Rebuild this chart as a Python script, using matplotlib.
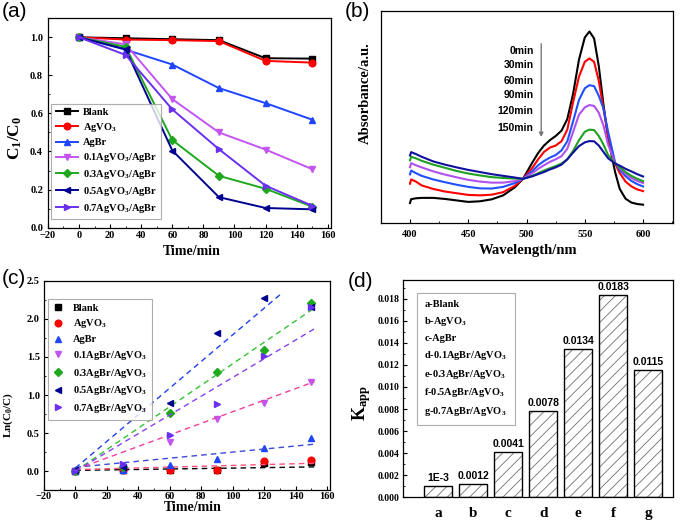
import matplotlib
matplotlib.use('Agg')
import matplotlib.pyplot as plt
from matplotlib.lines import Line2D
from matplotlib.ticker import MultipleLocator

plt.rcParams['font.family'] = 'Liberation Serif'
plt.rcParams['font.weight'] = 'bold'
plt.rcParams['axes.labelweight'] = 'bold'
plt.rcParams['mathtext.fontset'] = 'custom'
plt.rcParams['mathtext.rm'] = 'Liberation Serif:bold'
plt.rcParams['mathtext.it'] = 'Liberation Serif:bold'
plt.rcParams['mathtext.bf'] = 'Liberation Serif:bold'
plt.rcParams['mathtext.default'] = 'rm'
plt.rcParams['xtick.direction'] = 'in'
plt.rcParams['ytick.direction'] = 'in'
plt.rcParams['xtick.major.size'] = 3
plt.rcParams['ytick.major.size'] = 3
plt.rcParams['xtick.minor.size'] = 1.6
plt.rcParams['ytick.minor.size'] = 1.6
plt.rcParams['axes.linewidth'] = 0.9
plt.rcParams['hatch.linewidth'] = 0.6

# ---- (a) C/C0 vs time
time = [0, 30, 60, 90, 120, 150]
labels_a = ['Blank', 'AgVO$_3$', 'AgBr', '0.1AgVO$_3$/AgBr', '0.3AgVO$_3$/AgBr',
            '0.5AgVO$_3$/AgBr', '0.7AgVO$_3$/AgBr']
blank_c = [1.0, 0.995, 0.99, 0.985, 0.89, 0.888]
agvo3_c = [1.0, 0.988, 0.985, 0.98, 0.876, 0.867]
agbr_c = [1.0, 0.935, 0.857, 0.733, 0.654, 0.567]
s01_c = [1.0, 0.963, 0.675, 0.50, 0.41, 0.307]
s03_c = [1.0, 0.95, 0.46, 0.272, 0.204, 0.11]
s05_c = [1.0, 0.937, 0.405, 0.16, 0.103, 0.096]
s07_c = [1.0, 0.907, 0.621, 0.412, 0.22, 0.115]

# ---- (b) UV-vis spectra
wl = [400, 401, 405, 410, 420, 430, 440, 450, 460, 470, 480, 490, 497, 505, 510, 515,
      520, 525, 530, 535, 540, 545, 550, 554, 558, 562, 566, 570, 576, 580, 585, 590, 595, 600]
abs_0 = [0.094, 0.112, 0.116, 0.118, 0.118, 0.113, 0.106, 0.099, 0.102, 0.111, 0.130, 0.168,
         0.208, 0.285, 0.330, 0.365, 0.390, 0.410, 0.435, 0.490, 0.610, 0.770, 0.875, 0.903,
         0.870, 0.740, 0.560, 0.400, 0.240, 0.160, 0.114, 0.096, 0.089, 0.086]
abs_30 = [0.185, 0.205, 0.195, 0.177, 0.160, 0.148, 0.140, 0.132, 0.130, 0.133, 0.145, 0.175,
          0.208, 0.260, 0.300, 0.335, 0.355, 0.365, 0.385, 0.440, 0.570, 0.690, 0.760, 0.776,
          0.760, 0.670, 0.540, 0.410, 0.280, 0.235, 0.195, 0.172, 0.158, 0.150]
abs_60 = [0.229, 0.247, 0.235, 0.222, 0.205, 0.192, 0.180, 0.170, 0.163, 0.162, 0.170, 0.188,
          0.208, 0.245, 0.272, 0.292, 0.308, 0.320, 0.342, 0.385, 0.480, 0.580, 0.635, 0.650,
          0.645, 0.600, 0.540, 0.430, 0.285, 0.250, 0.220, 0.198, 0.183, 0.172]
abs_90 = [0.263, 0.282, 0.272, 0.262, 0.243, 0.228, 0.215, 0.203, 0.195, 0.190, 0.190, 0.197,
          0.208, 0.235, 0.255, 0.272, 0.288, 0.300, 0.315, 0.350, 0.430, 0.510, 0.545, 0.556,
          0.552, 0.520, 0.460, 0.370, 0.283, 0.258, 0.232, 0.212, 0.198, 0.188]
abs_120 = [0.295, 0.312, 0.305, 0.293, 0.275, 0.260, 0.245, 0.233, 0.224, 0.216, 0.212, 0.209,
           0.208, 0.222, 0.235, 0.247, 0.258, 0.268, 0.280, 0.300, 0.340, 0.390, 0.430, 0.440,
           0.438, 0.410, 0.370, 0.320, 0.281, 0.262, 0.240, 0.222, 0.208, 0.197]
abs_150 = [0.318, 0.334, 0.325, 0.312, 0.290, 0.275, 0.262, 0.250, 0.240, 0.230, 0.222, 0.214,
           0.208, 0.220, 0.230, 0.240, 0.252, 0.262, 0.275, 0.300, 0.332, 0.362, 0.380, 0.386,
           0.385, 0.365, 0.335, 0.305, 0.280, 0.270, 0.255, 0.243, 0.230, 0.219]
spec_labels = ['0min', '30min', '60min', '90min', '120min', '150min']
spec_label_y = [0.812, 0.746, 0.671, 0.602, 0.530, 0.448]

# ---- (c) ln(C0/C) kinetics
labels_c = ['Blank', 'AgVO$_3$', 'AgBr', '0.1AgBr/AgVO$_3$', '0.3AgBr/AgVO$_3$',
            '0.5AgBr/AgVO$_3$', '0.7AgBr/AgVO$_3$']
ln_blank = [0.0, 0.02, 0.02, 0.02, 0.11, 0.12]
ln_agvo3 = [0.0, 0.01, 0.01, 0.01, 0.13, 0.14]
ln_agbr = [0.0, 0.01, 0.074, 0.155, 0.31, 0.43]
ln_s01 = [0.0, 0.04, 0.385, 0.69, 0.90, 1.17]
ln_s03 = [0.0, 0.05, 0.77, 1.30, 1.59, 2.21]
ln_s05 = [0.02, 0.06, 0.90, 1.82, 2.27, 2.16]
ln_s07 = [0.0, 0.09, 0.48, 0.885, 1.51, 2.15]
fit_intercept = [0.01, 0.02, 0.05, 0.02, 0.0, 0.04, 0.0]
fit_slope = [0.0003, 0.00055, 0.002, 0.0076, 0.0141, 0.0175, 0.0123]
fit_end = [152, 152, 152, 152, 152, 131, 152]

# ---- (d) rate constants
bar_cats = ['a', 'b', 'c', 'd', 'e', 'f', 'g']
k_app = [0.001, 0.0012, 0.0041, 0.0078, 0.0134, 0.0183, 0.0115]
k_text = ['1E-3', '0.0012', '0.0041', '0.0078', '0.0134', '0.0183', '0.0115']
labels_d = ['a-Blank', 'b-AgVO$_3$', 'c-AgBr', 'd-0.1AgBr/AgVO$_3$', 'e-0.3AgBr/AgVO$_3$',
            'f-0.5AgBr/AgVO$_3$', 'g-0.7AgBr/AgVO$_3$']

colors_a = ['#000000', '#ff0000', '#1f45ff', '#c455f2', '#1ea81e', '#000090', '#6a30f0']
markers_a = ['s', 'o', '^', 'v', 'D', '<', '>']
fit_colors = ['#000000', '#ff5078', '#3a4ad8', '#f0409c', '#34c034', '#2040e8', '#8a40f0']
spec_colors = ['#000000', '#ff0000', '#2050ff', '#b050f0', '#20a020', '#1010a0']

fig = plt.figure(figsize=(6.85, 5.22), dpi=100)
ax_a = fig.add_axes([0.070, 0.564, 0.413, 0.401])
ax_b = fig.add_axes([0.556, 0.573, 0.427, 0.406])
ax_c = fig.add_axes([0.064, 0.061, 0.418, 0.401])
ax_d = fig.add_axes([0.589, 0.047, 0.393, 0.417])

# panel a
series_a = [blank_c, agvo3_c, agbr_c, s01_c, s03_c, s05_c, s07_c]
for vals, lab, col, mk in zip(series_a, labels_a, colors_a, markers_a):
    ms = 3.8 if mk == 'D' else 4.8
    ax_a.plot(time, vals, color=col, marker=mk, ms=ms, lw=1.4, label=lab)
ax_a.set_xlim(-20, 162)
ax_a.set_ylim(0, 1.1)
ax_a.xaxis.set_major_locator(MultipleLocator(20))
ax_a.xaxis.set_minor_locator(MultipleLocator(10))
ax_a.yaxis.set_major_locator(MultipleLocator(0.2))
ax_a.yaxis.set_minor_locator(MultipleLocator(0.1))
ax_a.tick_params(labelsize=7.5, pad=2.5)
ax_a.tick_params(axis='y', pad=3.5)
ax_a.set_xlabel('Time/min', fontsize=10)
ax_a.set_ylabel('C$_1$/C$_0$', fontsize=12.5)
ax_a.xaxis.set_label_coords(0.51, -0.085)
ax_a.yaxis.set_label_coords(-0.085, 0.43)
leg = ax_a.legend(loc='lower left', bbox_to_anchor=(0.012, 0.04), fontsize=7.5,
                  frameon=True, fancybox=False, edgecolor='#999999', handlelength=2.2,
                  labelspacing=0.38, borderpad=0.4, handletextpad=0.4, borderaxespad=0)
leg.get_frame().set_linewidth(0.8)

# panel b
spectra = [abs_0, abs_30, abs_60, abs_90, abs_120, abs_150]
for vals, col in zip(spectra, spec_colors):
    ax_b.plot(wl, vals, color=col, lw=1.5)
for lab, yy in zip(spec_labels, spec_label_y):
    ax_b.text(506, yy, lab, ha='right', va='center', fontsize=7.5,
              family='Liberation Sans', fontweight='bold')
ax_b.annotate('', xy=(512.6, 0.405), xytext=(512.6, 0.845),
              arrowprops=dict(arrowstyle='-|>', color='#777777', lw=1.0,
                              mutation_scale=6, shrinkA=0, shrinkB=0))
ax_b.set_xlim(375, 626)
ax_b.set_ylim(0, 1.0)
ax_b.set_yticks([])
ax_b.xaxis.set_major_locator(MultipleLocator(50))
ax_b.xaxis.set_minor_locator(MultipleLocator(25))
ax_b.tick_params(labelsize=7.5, pad=5)
ax_b.set_xlabel('Wavelength/nm', fontsize=10.5)
ax_b.set_ylabel('Absorbance/a.u.', fontsize=10.5)
ax_b.xaxis.set_label_coords(0.503, -0.1)
ax_b.yaxis.set_label_coords(-0.03, 0.61)

# panel c
series_c = [ln_blank, ln_agvo3, ln_agbr, ln_s01, ln_s03, ln_s05, ln_s07]
for i, (vals, lab, col, mk) in enumerate(zip(series_c, labels_c, colors_a, markers_a)):
    ms = 3.8 if mk == 'D' else 4.8
    ax_c.plot(time, vals, ls='none', marker=mk, ms=ms, color=col, label=lab)
    x_fit = [0, fit_end[i]]
    y_fit = [fit_intercept[i], fit_intercept[i] + fit_slope[i] * fit_end[i]]
    ax_c.plot(x_fit, y_fit, ls=(0, (4, 3)), lw=1.0, color=fit_colors[i])
ax_c.set_xlim(-20, 162)
ax_c.set_ylim(-0.25, 2.5)
ax_c.xaxis.set_major_locator(MultipleLocator(20))
ax_c.xaxis.set_minor_locator(MultipleLocator(10))
ax_c.yaxis.set_major_locator(MultipleLocator(0.5))
ax_c.yaxis.set_minor_locator(MultipleLocator(0.25))
ax_c.tick_params(labelsize=7.5, pad=1.5)
ax_c.tick_params(axis='y', pad=3)
ax_c.set_xlabel('Time/min', fontsize=10)
ax_c.set_ylabel('Ln(C$_0$/C)', fontsize=8)
ax_c.xaxis.set_label_coords(0.52, -0.05)
ax_c.yaxis.set_label_coords(-0.1, 0.36)
leg = ax_c.legend(loc='upper left', bbox_to_anchor=(0.014, 0.915), fontsize=7.5,
                  frameon=True, fancybox=False, edgecolor='#999999', handlelength=1.0,
                  labelspacing=0.45, borderpad=0.45, handletextpad=1.0, borderaxespad=0)
leg.get_frame().set_linewidth(0.8)

# panel d
xpos = list(range(len(bar_cats)))
ax_d.bar(xpos, k_app, width=0.8, color='white', edgecolor='#707070', lw=0, hatch='///')
ax_d.bar(xpos, k_app, width=0.8, fill=False, edgecolor='black', lw=1.0)
for x, v, t in zip(xpos, k_app, k_text):
    ax_d.text(x, v + 0.0003, t, ha='center', va='bottom', fontsize=7.5,
              family='Liberation Sans', fontweight='bold')
ax_d.set_xlim(-1.0, 6.7)
ax_d.set_ylim(0, 0.0197)
ax_d.set_xticks(xpos)
ax_d.set_xticklabels(bar_cats, fontsize=11)
ax_d.tick_params(axis='x', length=0, pad=7)
ax_d.yaxis.set_major_locator(MultipleLocator(0.002))
ax_d.yaxis.set_minor_locator(MultipleLocator(0.001))
ax_d.yaxis.set_major_formatter(matplotlib.ticker.FormatStrFormatter('%.3f'))
ax_d.tick_params(axis='y', labelsize=7, pad=3)
ax_d.set_ylabel('K$_{app}$', fontsize=13)
ax_d.yaxis.set_label_coords(-0.115, 0.434)
blank_handles = [Line2D([], [], ls='none') for _ in labels_d]
leg = ax_d.legend(blank_handles, labels_d, loc='upper left', bbox_to_anchor=(0.051, 0.94),
                  fontsize=7.5, frameon=True, fancybox=False, edgecolor='#999999',
                  handlelength=0, handletextpad=0, labelspacing=0.55, borderpad=0.7,
                  borderaxespad=0)
leg.get_frame().set_linewidth(0.8)

# panel letters
for txt, x, y in [('(a)', 0.002, 0.997), ('(b)', 0.503, 0.997),
                  ('(c)', 0.002, 0.485), ('(d)', 0.508, 0.478)]:
    fig.text(x, y, txt, ha='left', va='top', fontsize=15,
             family='Liberation Sans', fontweight='normal')

fig.savefig('out.png', dpi=100)
